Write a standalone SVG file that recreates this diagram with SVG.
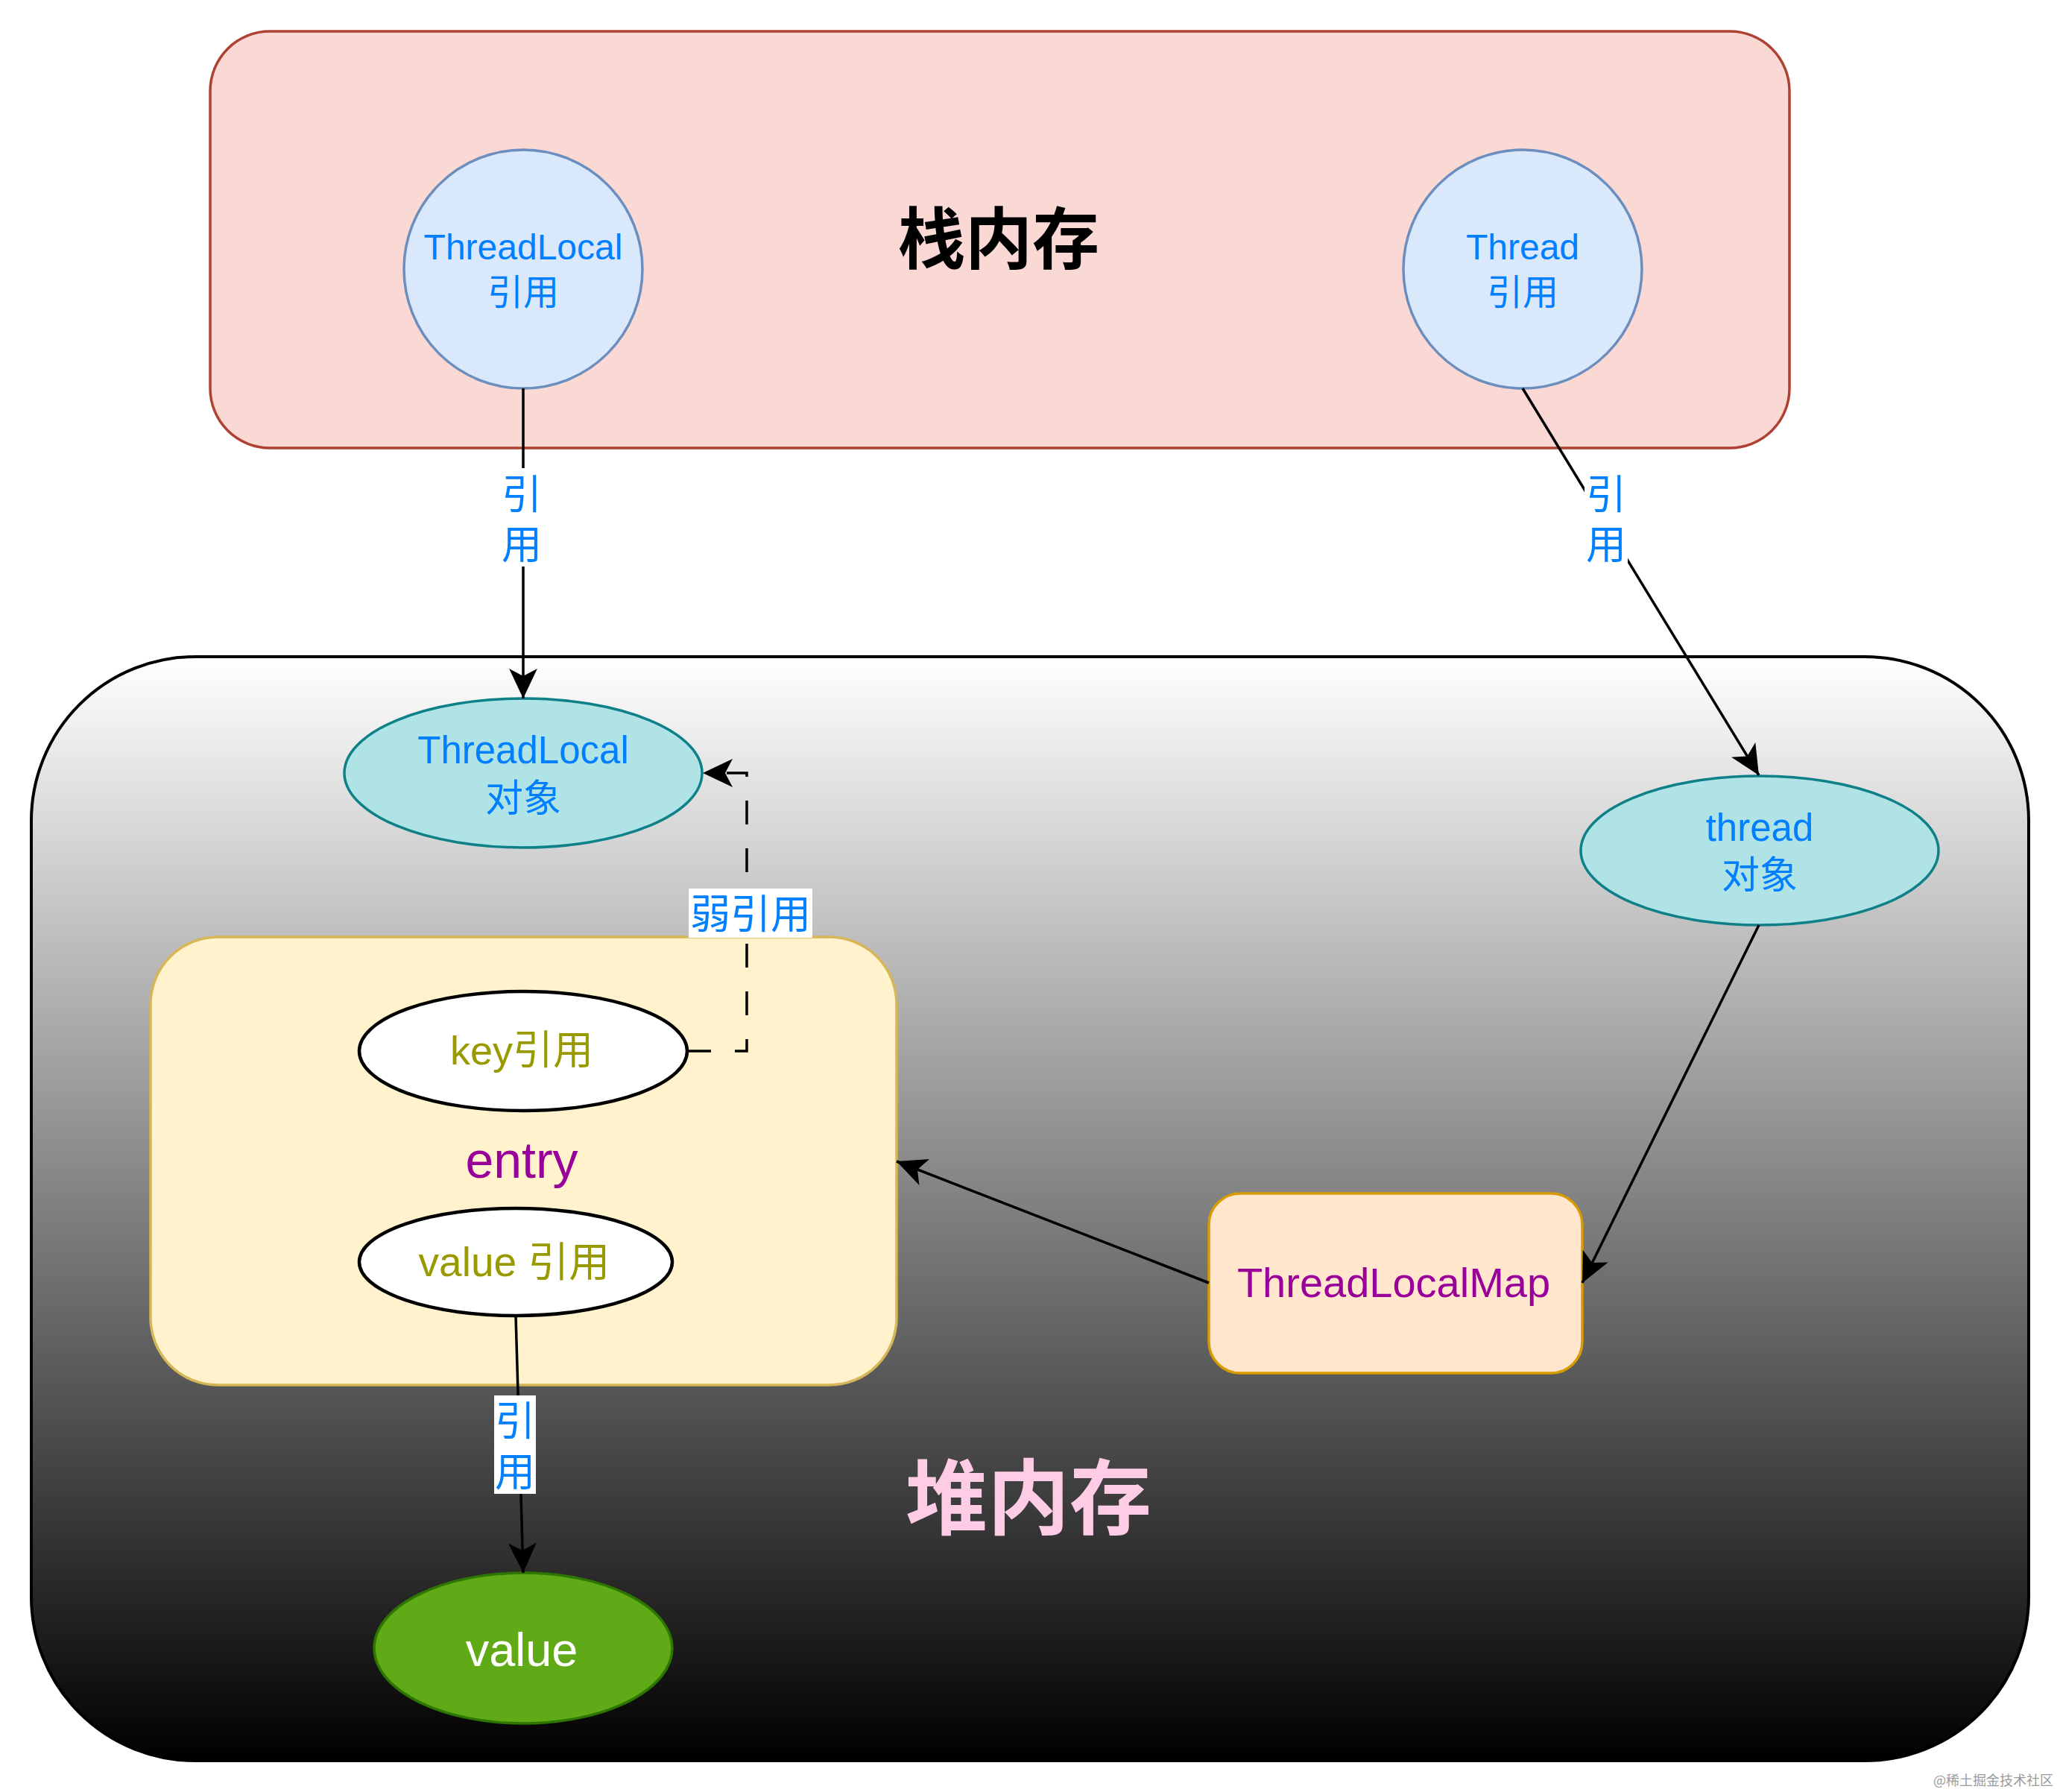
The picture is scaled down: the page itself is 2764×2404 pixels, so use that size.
<svg xmlns="http://www.w3.org/2000/svg" width="2764" height="2404" viewBox="0 0 2764 2404">
<defs>
  <linearGradient id="heapGrad" x1="0" y1="0" x2="0" y2="1">
    <stop offset="0" stop-color="#ffffff"/>
    <stop offset="1" stop-color="#000000"/>
  </linearGradient>
  <marker id="arrow" markerUnits="userSpaceOnUse" markerWidth="40" markerHeight="40" viewBox="0 0 36 34" refX="36" refY="17" orient="auto">
    <path d="M36,17 L0,0 L9,17 L0,34 Z" fill="#000000"/>
  </marker>
  <style>
    text { font-family: "Liberation Sans", Arial, "Noto Sans CJK SC", sans-serif; text-anchor: middle; }
    .blue { fill: #007fff; }
    .olive { fill: #999900; }
    .purple { fill: #990099; }
    .refcircle { fill: #dae8fc; stroke: #6c8ebf; stroke-width: 3.5; }
    .obj { fill: #b0e3e6; stroke: #0e8088; stroke-width: 3.5; }
    .wref { fill: #ffffff; stroke: #000000; stroke-width: 4.5; }
    .edge { fill: none; stroke: #000000; stroke-width: 3.5; }
    .dash { stroke-dasharray: 32 32; }
    .lblbg { fill: #ffffff; }
    .elbl { font-size: 54px; fill: #007fff; }
  </style>
</defs>
<rect width="2764" height="2404" fill="#ffffff"/>

<g id="stack-memory">
  <rect x="282" y="42" width="2119" height="559" rx="80" ry="80" fill="#fad9d5" stroke="#ae4132" stroke-width="3.5"/>
  <text x="1340" y="353" style="font-size:90px;font-weight:bold;fill:#000000">栈内存</text>
</g>

<g id="heap-memory">
  <rect x="42" y="881" width="2680" height="1481" rx="220" ry="220" fill="url(#heapGrad)" stroke="#000000" stroke-width="4"/>
  <text x="1380" y="2050" style="font-size:110px;font-weight:bold;fill:#ffcce6">堆内存</text>
</g>

<g id="threadlocal-ref">
  <circle cx="702" cy="361" r="160" class="refcircle"/>
  <text x="702" y="348" class="blue" style="font-size:48px">ThreadLocal</text>
  <text x="702" y="409" class="blue" style="font-size:48px">引用</text>
</g>

<g id="thread-ref">
  <circle cx="2043" cy="361" r="160" class="refcircle"/>
  <text x="2043" y="348" class="blue" style="font-size:48px">Thread</text>
  <text x="2043" y="409" class="blue" style="font-size:48px">引用</text>
</g>

<g id="threadlocal-obj">
  <ellipse cx="702" cy="1037" rx="240" ry="100" class="obj"/>
  <text x="702" y="1024" class="blue" style="font-size:51px">ThreadLocal</text>
  <text x="702" y="1089" class="blue" style="font-size:51px">对象</text>
</g>

<g id="thread-obj">
  <ellipse cx="2361" cy="1141" rx="240" ry="100" class="obj"/>
  <text x="2361" y="1128" class="blue" style="font-size:51px">thread</text>
  <text x="2361" y="1192" class="blue" style="font-size:51px">对象</text>
</g>

<g id="entry">
  <rect x="202" y="1257" width="1001" height="601" rx="90" ry="90" fill="#fff2cc" stroke="#d6b656" stroke-width="3.5"/>
  <text x="700" y="1580" class="purple" style="font-size:68px">entry</text>
</g>

<g id="key-ref">
  <ellipse cx="702" cy="1410" rx="220" ry="80" class="wref"/>
  <text x="700" y="1428" class="olive" style="font-size:54px">key引用</text>
</g>

<g id="value-ref">
  <ellipse cx="692" cy="1693" rx="210" ry="72" class="wref"/>
  <text x="690" y="1712" class="olive" style="font-size:55px">value 引用</text>
</g>

<g id="threadlocalmap">
  <rect x="1622" y="1601" width="501" height="241" rx="42" ry="42" fill="#ffe6cc" stroke="#d79b00" stroke-width="3.5"/>
  <text x="1870" y="1740" class="purple" style="font-size:56px">ThreadLocalMap</text>
</g>

<g id="value">
  <ellipse cx="702" cy="2211" rx="200" ry="101" fill="#60a917" stroke="#2d7600" stroke-width="3.5"/>
  <text x="700" y="2235" style="font-size:63px;fill:#ffffff">value</text>
</g>

<g id="connectors">
  <path class="edge" d="M702,521 L702,937" marker-end="url(#arrow)"/>
  <path class="edge" d="M2043,521 L2360,1040" marker-end="url(#arrow)"/>
  <path class="edge dash" d="M922,1410 L1002,1410 L1002,1037 L943,1037" marker-end="url(#arrow)"/>
  <path class="edge" d="M692,1765 L702,2110" marker-end="url(#arrow)"/>
  <path class="edge" d="M2360,1241 L2123,1721" marker-end="url(#arrow)"/>
  <path class="edge" d="M1622,1721 L1203,1558" marker-end="url(#arrow)"/>

  <g id="label-tl-ref">
    <rect x="674" y="628" width="56" height="132" class="lblbg"/>
    <text x="700" y="683" class="elbl">引</text>
    <text x="700" y="750" class="elbl">用</text>
  </g>
  <g id="label-thread-ref">
    <rect x="2126" y="628" width="58" height="132" class="lblbg"/>
    <text x="2155" y="683" class="elbl">引</text>
    <text x="2155" y="750" class="elbl">用</text>
  </g>
  <g id="label-weak">
    <rect x="924" y="1192" width="166" height="66" class="lblbg"/>
    <text x="1007" y="1246" class="elbl">弱引用</text>
  </g>
  <g id="label-value-ref">
    <rect x="663" y="1872" width="56" height="132" class="lblbg"/>
    <text x="691" y="1926" class="elbl">引</text>
    <text x="691" y="1994" class="elbl">用</text>
  </g>
</g>

<text x="2755" y="2395" style="font-size:18px;fill:#9a9a9a;text-anchor:end;font-family:'Noto Sans CJK SC', sans-serif">@稀土掘金技术社区</text>
</svg>
